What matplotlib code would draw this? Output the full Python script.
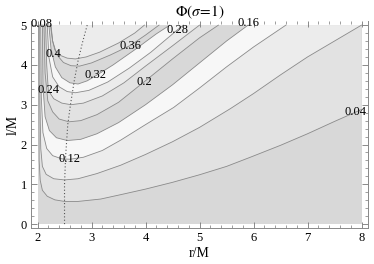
import numpy as np
import matplotlib.pyplot as plt

plt.rcParams['font.family'] = ['Liberation Serif', 'DejaVu Serif']
plt.rcParams['mathtext.fontset'] = 'stix'

# contour levels and the lines (r/M, l/M)
levels = [0.04, 0.08, 0.12, 0.16, 0.20, 0.24, 0.28, 0.32, 0.36, 0.40]

r_004 = [2.02, 2.025, 2.03, 2.05, 2.09, 2.18, 2.32, 2.5, 2.75, 3.17, 3.54, 4.0, 4.5, 5.0, 5.5, 5.94, 6.5, 7.0, 7.5, 8.0]
l_004 = [5.0, 3.0, 1.6, 1.1, 0.85, 0.7, 0.61, 0.57, 0.57, 0.63, 0.74, 0.88, 1.05, 1.24, 1.45, 1.68, 1.98, 2.27, 2.58, 2.88]

r_008 = [2.04, 2.045, 2.06, 2.09, 2.16, 2.3, 2.5, 2.75, 3.1, 3.54, 4.0, 4.5, 5.0, 5.57, 6.0, 6.5, 7.0, 7.5, 8.0]
l_008 = [5.0, 3.0, 1.9, 1.45, 1.25, 1.14, 1.11, 1.14, 1.27, 1.48, 1.75, 2.07, 2.43, 2.9, 3.28, 3.75, 4.2, 4.6, 5.0]

r_012 = [2.06, 2.07, 2.1, 2.17, 2.28, 2.45, 2.6, 2.85, 3.2, 3.54, 4.0, 4.52, 5.0, 5.5, 6.0, 6.6]
l_012 = [5.0, 3.2, 2.3, 1.9, 1.72, 1.64, 1.63, 1.68, 1.85, 2.11, 2.5, 2.93, 3.42, 3.95, 4.45, 5.0]

r_016 = [2.09, 2.1, 2.14, 2.22, 2.35, 2.55, 2.8, 3.1, 3.5, 4.0, 4.5, 5.0, 5.5, 5.9]
l_016 = [5.0, 3.5, 2.7, 2.35, 2.17, 2.1, 2.13, 2.27, 2.55, 3.0, 3.5, 4.05, 4.6, 5.0]

r_020 = [2.12, 2.14, 2.19, 2.28, 2.4, 2.58, 2.8, 3.1, 3.5, 3.97, 4.5, 5.0, 5.35]
l_020 = [5.0, 3.8, 3.1, 2.82, 2.64, 2.57, 2.6, 2.75, 3.06, 3.57, 4.15, 4.68, 5.0]

r_024 = [2.15, 2.17, 2.2, 2.3, 2.45, 2.62, 2.85, 3.2, 3.6, 4.0, 4.5, 5.0]
l_024 = [5.0, 4.0, 3.36, 3.15, 3.04, 3.0, 3.04, 3.22, 3.55, 3.97, 4.48, 5.0]

r_028 = [2.18, 2.21, 2.28, 2.4, 2.55, 2.7, 2.95, 3.3, 3.7, 4.1, 4.59, 4.7]
l_028 = [5.0, 4.2, 3.7, 3.45, 3.33, 3.3, 3.36, 3.57, 3.92, 4.32, 4.88, 5.0]

r_032 = [2.21, 2.25, 2.33, 2.45, 2.6, 2.75, 2.92, 3.07, 3.4, 3.8, 4.2, 4.45]
l_032 = [5.0, 4.4, 3.95, 3.68, 3.55, 3.52, 3.6, 3.72, 4.0, 4.38, 4.78, 5.0]

r_036 = [2.24, 2.28, 2.36, 2.48, 2.62, 2.78, 3.0, 3.35, 3.72, 4.0, 4.25]
l_036 = [5.0, 4.6, 4.25, 4.06, 3.98, 3.97, 4.05, 4.25, 4.49, 4.75, 5.0]

r_040 = [2.25, 2.28, 2.32, 2.42, 2.55, 2.7, 2.9, 3.15, 3.5, 3.8, 3.98]
l_040 = [5.0, 4.6, 4.38, 4.24, 4.17, 4.15, 4.2, 4.32, 4.55, 4.8, 5.0]

curves_r = [r_004, r_008, r_012, r_016, r_020, r_024, r_028, r_032, r_036, r_040]
curves_l = [l_004, l_008, l_012, l_016, l_020, l_024, l_028, l_032, l_036, l_040]

# locus of the minima (dotted)
r_min = [2.5, 2.5, 2.52, 2.56, 2.61, 2.68, 2.75, 2.83, 2.92]
l_min = [0.0, 1.0, 1.7, 2.5, 3.0, 3.6, 4.1, 4.55, 5.0]

label_text = ['0.04', '0.08', '0.12', '0.16', '0.2', '0.24', '0.28', '0.32', '0.36', '0.4']

# grey shades cycle through the bands
shades = ['#d8d8d8', '#e2e2e2', '#ececec', '#f7f7f7']
line_col = '#8a8a8a'

fig = plt.figure(figsize=(3.74, 2.64), dpi=100)
ax = fig.add_axes([0.083, 0.136, 0.901, 0.784])

# background = region below lowest contour
ax.fill([2, 8, 8, 2], [0, 0, 5, 5], color=shades[0], lw=0)
for i, (rr, ll) in enumerate(zip(curves_r, curves_l)):
    px = list(rr)
    py = list(ll)
    if py[-1] < 5.0:
        px.append(8.0)
        py.append(5.0)
    ax.fill(px, py, color=shades[(i + 1) % 4], lw=0)

for rr, ll in zip(curves_r, curves_l):
    ax.plot(rr, ll, color=line_col, lw=0.6)

ax.plot(r_min, l_min, color='#555555', lw=0.8, ls=(0, (1, 2)))

# contour labels
label_pos = [(7.89, 2.82), (2.08, 5.03), (2.59, 1.63), (5.9, 5.06), (3.97, 3.57),
             (2.2, 3.36), (4.59, 4.88), (3.07, 3.74), (3.72, 4.47), (2.3, 4.27)]
for txt, (x, y) in zip(label_text, label_pos):
    ax.text(x, y, txt, ha='center', va='center', fontsize=9)

ax.set_xlim(1.88, 8.12)
ax.set_ylim(-0.1, 5.1)
ax.set_xticks(range(2, 9))
ax.set_yticks(range(0, 6))
ax.set_xticks(np.arange(2, 8.01, 0.2), minor=True)
ax.set_yticks(np.arange(0, 5.01, 0.2), minor=True)
ax.tick_params(which='both', direction='in', top=True, right=True, color='#777777',
               labelsize=9, pad=3)
ax.tick_params(which='major', length=4, width=0.6)
ax.tick_params(which='minor', length=2, width=0.5)
for s in ax.spines.values():
    s.set_color('#888888')
    s.set_linewidth(0.7)
ax.spines['top'].set_visible(False)

ax.set_title(r'$\Phi(\sigma\!=\!1)$', fontsize=11, pad=3)
ax.set_xlabel('r/M', fontsize=10, labelpad=2)
ax.set_ylabel('l/M', fontsize=10, labelpad=1)

fig.savefig('out.png', dpi=100)
